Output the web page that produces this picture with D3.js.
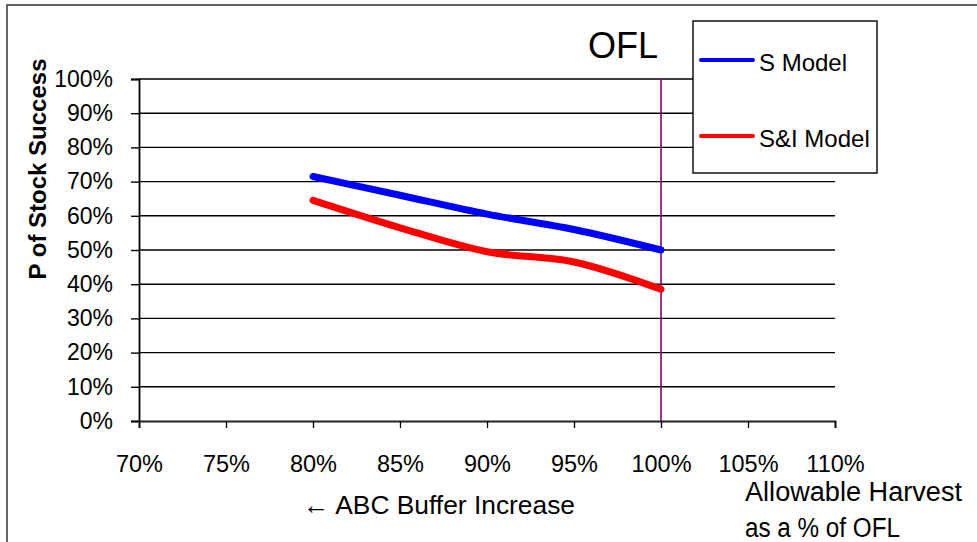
<!DOCTYPE html>
<html>
<head>
<meta charset="utf-8">
<script src="https://cdn.jsdelivr.net/npm/d3@7"></script>
<style>
body{margin:0;background:#fff;}
svg{display:block;}
</style>
</head>
<body>
<div id="chart"></div>
<script>
// values
var harvest = [0.80, 0.85, 0.90, 0.95, 1.00]
var sModel = [0.715, 0.66, 0.605, 0.56, 0.50]
var siModel = [0.645, 0.565, 0.495, 0.465, 0.385]
var xTicks = [0.70, 0.75, 0.80, 0.85, 0.90, 0.95, 1.00, 1.05, 1.10]
var yTicks = [0, 0.1, 0.2, 0.3, 0.4, 0.5, 0.6, 0.7, 0.8, 0.9, 1.0]
var seriesNames = ["S Model", "S&I Model"]
var seriesColors = ["#0000ff", "#ff0000"]
var ofl = 1.00

var w = 977, h = 542
var arial = "Arial, 'Liberation Sans', sans-serif"
var svg = d3.select("#chart").append("svg").attr("width", w).attr("height", h)

// outer frame
svg.append("rect").attr("x", 7).attr("y", 5).attr("width", 990).attr("height", 560)
  .attr("fill", "none").attr("stroke", "#333").attr("stroke-width", 1.5)

var xScale = d3.scaleLinear().domain([0.70, 1.10]).range([139, 835])
var yScale = d3.scaleLinear().domain([0, 1]).range([421, 79])

// gridlines
svg.selectAll("line.grid")
  .data(yTicks.slice(1))
  .enter()
  .append("line")
  .attr("class", "grid")
  .attr("x1", 139).attr("x2", 835)
  .attr("y1", function(d){return yScale(d)})
  .attr("y2", function(d){return yScale(d)})
  .attr("stroke", "#000").attr("stroke-width", 1.4)

// y axis
var yAxis = svg.append("g").attr("transform", "translate(139,0)")
  .call(d3.axisLeft(yScale).tickValues(yTicks).tickFormat(d3.format(".0%")).tickSize(8).tickPadding(18))
yAxis.select(".domain").attr("stroke", "#000").attr("stroke-width", 1.8)
yAxis.selectAll(".tick line").attr("stroke", "#000").attr("stroke-width", 1.4)
yAxis.selectAll("text").attr("font-family", arial)
  .attr("font-size", "23px").attr("fill", "#000")

// x axis
var xAxis = svg.append("g").attr("transform", "translate(0,421)")
  .call(d3.axisBottom(xScale).tickValues(xTicks).tickFormat(d3.format(".0%")).tickSize(7).tickPadding(27))
xAxis.select(".domain").attr("stroke", "#222").attr("stroke-width", 1.8)
xAxis.selectAll(".tick line").attr("stroke", "#000").attr("stroke-width", 1.3)
xAxis.selectAll("text").attr("font-family", arial)
  .attr("font-size", "23.5px").attr("fill", "#000")

// OFL line
svg.append("line")
  .attr("x1", xScale(ofl)).attr("x2", xScale(ofl))
  .attr("y1", yScale(1)).attr("y2", yScale(0))
  .attr("stroke", "#800080").attr("stroke-width", 1.6)

svg.append("text").text("OFL")
  .attr("x", 588).attr("y", 58)
  .attr("font-family", arial)
  .attr("font-size", "36px").attr("fill", "#000")

// the two lines
var line = d3.line()
  .x(function(d){return xScale(d[0])})
  .y(function(d){return yScale(d[1])})
  .curve(d3.curveCatmullRom.alpha(0.5))

var allSeries = [sModel, siModel]
allSeries.forEach(function(vals, i){
  svg.append("path")
    .datum(harvest.map(function(x, j){return [x, vals[j]]}))
    .attr("d", line)
    .attr("fill", "none")
    .attr("stroke", seriesColors[i])
    .attr("stroke-width", 7)
    .attr("stroke-linecap", "round")
})

// legend
svg.append("rect").attr("x", 693).attr("y", 21).attr("width", 184).attr("height", 152)
  .attr("fill", "#fff").attr("stroke", "#000").attr("stroke-width", 1.4)
var legY = [60, 136]
seriesNames.forEach(function(name, i){
  svg.append("line").attr("x1", 701).attr("x2", 753)
    .attr("y1", legY[i]).attr("y2", legY[i])
    .attr("stroke", seriesColors[i]).attr("stroke-width", 4).attr("stroke-linecap", "round")
  svg.append("text").text(name)
    .attr("x", 759).attr("y", legY[i] + 11)
    .attr("font-family", arial)
    .attr("font-size", "24px").attr("fill", "#000")
})

// axis titles
svg.append("text").text("P of Stock Success")
  .attr("transform", "translate(46,169) rotate(-90)")
  .attr("text-anchor", "middle")
  .attr("font-family", arial)
  .attr("font-weight", "bold")
  .attr("font-size", "24px").attr("fill", "#000")

svg.append("text").text("\u2190 ABC Buffer Increase")
  .attr("x", 303).attr("y", 514)
  .attr("textLength", 272).attr("lengthAdjust", "spacingAndGlyphs")
  .attr("font-family", arial)
  .attr("font-size", "26px").attr("fill", "#000")

svg.append("text").text("Allowable Harvest")
  .attr("x", 745).attr("y", 501)
  .attr("textLength", 217).attr("lengthAdjust", "spacingAndGlyphs")
  .attr("font-family", arial)
  .attr("font-size", "27px").attr("fill", "#000")
svg.append("text").text("as a % of OFL")
  .attr("x", 745).attr("y", 537)
  .attr("textLength", 155).attr("lengthAdjust", "spacingAndGlyphs")
  .attr("font-family", arial)
  .attr("font-size", "27px").attr("fill", "#000")
</script>
</body>
</html>
